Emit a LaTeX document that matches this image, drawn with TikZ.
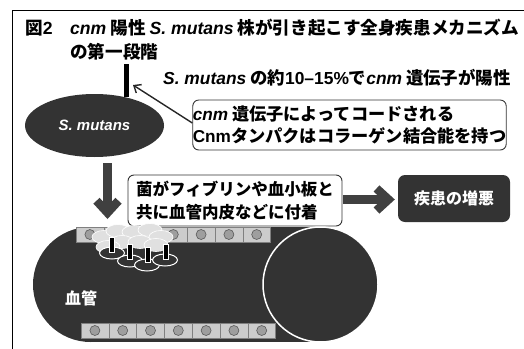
\documentclass[tikz,border=0pt]{standalone}
\usepackage{fontspec}
\setmainfont{Noto Sans CJK JP}
\newfontfamily\arialf{Liberation Sans}
\newcommand\spname[1]{{\arialf\bfseries\itshape #1}}
\newcommand\latn[1]{{\arialf\bfseries #1}}
\usetikzlibrary{arrows.meta,shapes.geometric,positioning}

\begin{document}
\begin{tikzpicture}[x=1pt, y=-1pt,
    titel/.style={font=\fontsize{17.6}{24}\selectfont\bfseries,
        anchor=west, inner sep=0pt},
    caja/.style={draw=black!80, line width=0.9pt, rounded corners=6pt,
        fill=white, align=left, inner sep=0pt,
        font=\fontsize{17.2}{22}\selectfont\bfseries},
    oscuro/.style={fill=black!80, rounded corners=7pt, text=white,
        font=\fontsize{16}{20}\selectfont\bfseries,
        minimum width=112pt, minimum height=47pt},
    flecha/.style={line width=8.5pt, draw=black!75,
        -{Straight Barb[length=12pt, width=22pt]}},
    celda/.style={fill=black!20, draw=black!50, line width=0.5pt,
        minimum width=27.8pt, minimum height=15pt, inner sep=0pt},
    nucleo/.style={circle, fill=black!38, draw=black!65, line width=0.6pt,
        minimum size=10pt, inner sep=0pt},
    gen/.style={fill=black, draw=white, line width=0.8pt,
        minimum width=4.5pt, minimum height=15pt, inner sep=0pt},
    bac/.style={ellipse, fill=black!80, draw=white, line width=1pt,
        minimum width=25pt, minimum height=12pt, inner sep=0pt},
    nube/.style={ellipse, fill=black!12, draw=white, line width=0.6pt,
        minimum width=24pt, minimum height=13pt, inner sep=0pt}
    ]
    \useasboundingbox (0,0) rectangle (524,348);
    \clip (0,0) rectangle (524,348);
    \draw[line width=1.8pt] (12.5,360) -- (12.5,10.5) -- (540,10.5);

    % titulo
    \node[titel] (tit1) at (25,28)
        {図\latn{2}\quad \spname{cnm} 陽性 \spname{S. mutans} 株が引き起こす全身疾患メカニズム};
    \node[titel] (tit2) at (70,52) {の第一段階};

    % bacteria y gen cnm
    \node[ellipse, fill=black!80, minimum width=139pt, minimum height=63pt,
        text=white, font=\fontsize{15}{18}\selectfont] (smut) at (94.5,125.5) {\spname{S. mutans}};
    \node[fill=black, minimum width=5pt, minimum height=33pt, inner sep=0pt] (gen) at (126,80) {};
    \node[titel, font=\fontsize{17.4}{22}\selectfont\bfseries] (pos) at (163,78)
        {\spname{S. mutans} の約\latn{10–15\%}で\spname{cnm} 遺伝子が陽性};
    \node[caja, minimum width=313pt, minimum height=50pt] (cnm) at (349.5,125)
        {\spname{cnm} 遺伝子によってコードされる\\\latn{Cnm}タンパクはコラーゲン結合能を持つ};
    \coordinate (punta) at (133,85);
    \draw[line width=1.4pt, black!85, -{Straight Barb[length=6pt, width=10pt]}] (cnm.west) ++(0,-2) -- (punta);

    % adhesion y enfermedad
    \node[caja, minimum width=214pt, minimum height=51pt, font=\fontsize{16.5}{23}\selectfont\bfseries] (adh) at (235,200.5)
        {菌がフィブリンや血小板と\\共に血管内皮などに付着};
    \node[oscuro] (enf) at (454,198.5) {疾患の増悪};
    \coordinate (baja) at (107.5,219);
    \draw[flecha] (107.5,163) -- (baja);
    \draw[flecha] (adh.east) ++(1,-1) -- ([xshift=-3pt, yshift=-1pt]enf.west);

    % vaso sanguineo
    \fill[black!80] (90.5,284.5) circle[radius=57.5];
    \fill[black!80] (90.5,227) rectangle (320,342);
    \fill[black!80, draw=white, line width=1.5pt] (320.5,284.5) circle[radius=57.5];
    \node[text=white, font=\fontsize{16}{18}\selectfont\bfseries] (vaso) at (81,298) {血管};

    \foreach \i in {0,...,6} {
        \node[celda] (arr\i) at (89.9+27.8*\i,234.5) {};
        \node[nucleo] at (arr\i) {};
        \node[celda] (aba\i) at (94.9+27.8*\i,330.5) {};
        \node[nucleo] at (aba\i) {};
    }

    % coagulo con bacterias
    \foreach \x/\y in {104/237, 118/231, 134/232, 150/230, 161/237, 122/242, 140/242, 156/245, 108/247}
        \node[nube] at (\x,\y) {};
    \foreach \x/\y/\n in {112/253/1, 130/261/2, 147/265/3, 165/260/4} {
        \node[bac] (b\n) at (\x,\y) {};
    }
    \foreach \x/\y/\n in {112/245/1, 130/252/2, 148/255/3, 166/252/4}
        \node[gen] (g\n) at (\x,\y) {};
\end{tikzpicture}
\end{document}
